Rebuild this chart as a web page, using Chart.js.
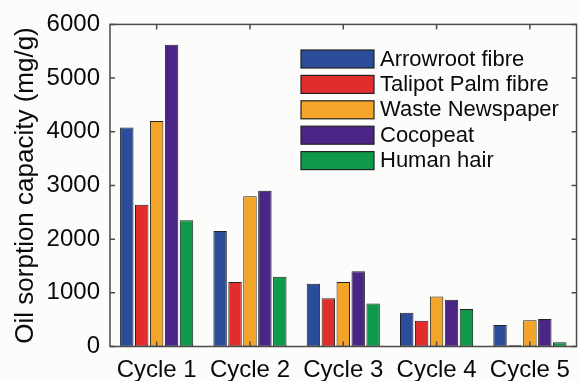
<!DOCTYPE html>
<html>
<head>
<meta charset="utf-8">
<script src="https://cdn.jsdelivr.net/npm/chart.js@4/dist/chart.umd.min.js"></script>
<style>
  html, body { margin: 0; padding: 0; background: #fcfcfa; }
  #wrap { width: 579px; height: 381px; }
</style>
</head>
<body>
<div id="wrap"><canvas id="chart"></canvas></div>
<script>
const cycles = ['Cycle 1', 'Cycle 2', 'Cycle 3', 'Cycle 4', 'Cycle 5']
const arrowroot = [4080, 2150, 1170, 630, 400]
const talipot = [2640, 1200, 900, 480, 25]
const newspaper = [4200, 2800, 1200, 930, 490]
const cocopeat = [5620, 2900, 1400, 870, 510]
const humanHair = [2350, 1300, 800, 700, 80]
const yTicks = [0, 1000, 2000, 3000, 4000, 5000, 6000]

const font = 'Liberation Sans, Arial, sans-serif'

// frame, inward ticks and legend drawn on top of the bars
const framePlugin = {
  id: 'frame',
  afterDraw(chart) {
    const { ctx, chartArea: a, scales } = chart
    ctx.save()
    ctx.strokeStyle = '#4a4a4a'
    ctx.lineWidth = 1.5
    ctx.strokeRect(a.left, a.top, a.right - a.left, a.bottom - a.top)
    ctx.beginPath()
    yTicks.forEach(v => {
      const y = scales.y.getPixelForValue(v)
      ctx.moveTo(a.left, y); ctx.lineTo(a.left + 5, y)
      ctx.moveTo(a.right, y); ctx.lineTo(a.right - 5, y)
    })
    cycles.forEach((c, i) => {
      const x = scales.x.getPixelForValue(i)
      ctx.moveTo(x, a.top); ctx.lineTo(x, a.top + 5)
      ctx.moveTo(x, a.bottom); ctx.lineTo(x, a.bottom - 5)
    })
    ctx.stroke()

    // legend
    ctx.font = '22px ' + font
    ctx.textBaseline = 'middle'
    chart.data.datasets.forEach((ds, i) => {
      const y = 50 + i * 25.4
      ctx.fillStyle = ds.backgroundColor
      ctx.fillRect(301, y, 73, 18)
      ctx.strokeStyle = '#222'
      ctx.lineWidth = 1.2
      ctx.strokeRect(301, y, 73, 18)
      ctx.fillStyle = '#0a0a0a'
      ctx.fillText(ds.label, 380, y + 9.5)
    })
    ctx.restore()
  }
}

const ctx = document.querySelector('#chart')

const myChart = new Chart(ctx, {
  type: 'bar',
  data: {
    labels: cycles,
    datasets: [
      { label: 'Arrowroot fibre', data: arrowroot, backgroundColor: '#2b4c9b' },
      { label: 'Talipot Palm fibre', data: talipot, backgroundColor: '#e12d2b' },
      { label: 'Waste Newspaper', data: newspaper, backgroundColor: '#f5a42a' },
      { label: 'Cocopeat', data: cocopeat, backgroundColor: '#4b2585' },
      { label: 'Human hair', data: humanHair, backgroundColor: '#0e9a4a' }
    ].map(d => Object.assign(d, { borderColor: '#222', borderWidth: 1, borderSkipped: false }))
  },
  options: {
    responsive: true,
    maintainAspectRatio: false,
    animation: false,
    layout: { padding: { top: 23, right: 1, left: 0, bottom: 0 } },
    plugins: {
      legend: { display: false },
      tooltip: { enabled: false }
    },
    scales: {
      x: {
        grid: { display: false, drawTicks: false },
        border: { display: false },
        ticks: { color: '#0a0a0a', font: { family: font, size: 24 }, padding: 9 },
        afterFit(scale) { scale.height = 34.5 }
      },
      y: {
        min: 0,
        max: 6000,
        afterBuildTicks(scale) { scale.ticks = yTicks.map(v => ({ value: v })) },
        grid: { display: false, drawTicks: false },
        border: { display: false },
        ticks: {
          color: '#0a0a0a',
          font: { family: font, size: 24 },
          padding: 10,
          callback: v => String(v)
        },
        title: {
          display: true,
          text: 'Oil sorption capacity (mg/g)',
          color: '#0a0a0a',
          font: { family: font, size: 26 },
          padding: { top: 10, bottom: 0 }
        },
        afterFit(scale) { scale.width = 110 }
      }
    }
  },
  plugins: [framePlugin]
})
</script>
</body>
</html>
